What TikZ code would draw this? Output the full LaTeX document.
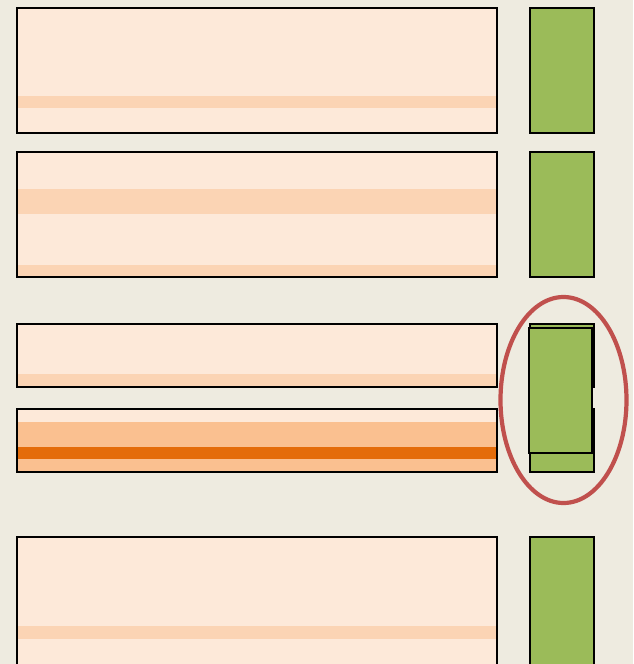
\documentclass[tikz,border=0pt]{standalone}
\definecolor{bg}{HTML}{EEEBE0}
\definecolor{lightfill}{HTML}{FDE9D9}
\definecolor{stripe}{HTML}{FBD4B4}
\definecolor{midstripe}{HTML}{FAC090}
\definecolor{darkstripe}{HTML}{E46C0A}
\definecolor{greenfill}{HTML}{9BBB59}
\definecolor{ringred}{HTML}{C0504D}
\tikzset{
  boxline/.style={draw=black, line width=2.7pt},
  greenbox/.style={fill=greenfill, draw=black, line width=2.7pt},
}
\begin{document}
\begin{tikzpicture}[x=1pt,y=-1pt]
\clip (0,0) rectangle (633,664);
\fill[bg] (0,0) rectangle (633,664);
% box 1
\fill[lightfill] (17,8) rectangle (497,133);
\fill[stripe] (17,96) rectangle (497,108);
\draw[boxline] (17,8) rectangle (497,133);
\draw[greenbox] (530,8) rectangle (594,133);
% box 2
\fill[lightfill] (17,152) rectangle (497,277);
\fill[stripe] (17,189) rectangle (497,214);
\fill[stripe] (17,265) rectangle (497,277);
\draw[boxline] (17,152) rectangle (497,277);
\draw[greenbox] (530,152) rectangle (594,277);
% box 3
\fill[lightfill] (17,324) rectangle (497,387);
\fill[stripe] (17,374) rectangle (497,387);
\draw[boxline] (17,324) rectangle (497,387);
\draw[greenbox] (530,324) rectangle (594,387);
% box 4
\fill[lightfill] (17,409) rectangle (497,472);
\fill[midstripe] (17,422) rectangle (497,472);
\fill[darkstripe] (17,447) rectangle (497,459);
\draw[boxline] (17,409) rectangle (497,472);
\draw[greenbox] (530,409) rectangle (594,472);
% overlay green
\draw[greenbox] (529,328) rectangle (592,453);
% ring
\draw[ringred, line width=4.2pt] (563.5,400) ellipse (63 and 103);
% box 5
\fill[lightfill] (17,537) rectangle (497,670);
\fill[stripe] (17,626) rectangle (497,639);
\draw[boxline] (17,537) rectangle (497,670);
\draw[greenbox] (530,537) rectangle (594,670);
\end{tikzpicture}
\end{document}
